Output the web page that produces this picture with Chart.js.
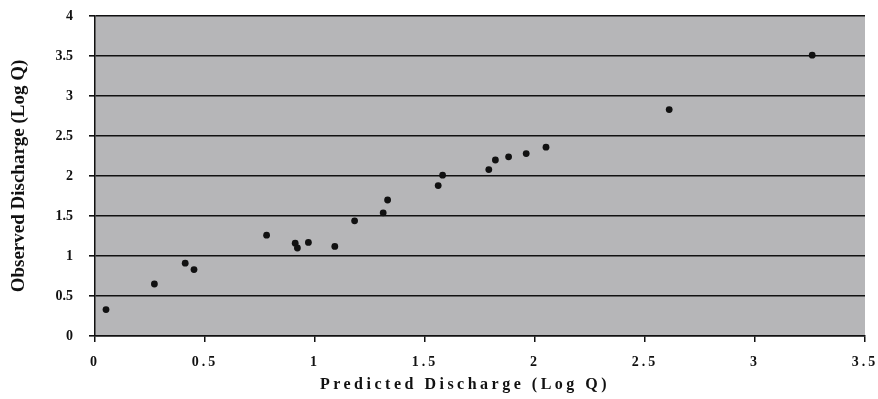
<!DOCTYPE html>
<html>
<head>
<meta charset="utf-8">
<script src="https://cdn.jsdelivr.net/npm/chart.js@4.4.1/dist/chart.umd.min.js"></script>
<style>
  html, body { margin: 0; padding: 0; background: #ffffff; }
  #wrap { width: 878px; height: 399px; }
</style>
</head>
<body>
<div id="wrap"><canvas id="c" width="878" height="399"></canvas></div>
<script>
const predicted = [0.05, 0.27, 0.41, 0.45, 0.78, 0.91, 0.92, 0.97, 1.09, 1.18, 1.31, 1.33, 1.56, 1.58, 1.79, 1.82, 1.88, 1.96, 2.05, 2.61, 3.26];
const observed  = [0.33, 0.65, 0.91, 0.83, 1.26, 1.16, 1.10, 1.17, 1.12, 1.44, 1.54, 1.70, 1.88, 2.01, 2.08, 2.20, 2.24, 2.28, 2.36, 2.83, 3.51];
const xTitle = 'Predicted Discharge (Log Q)';
const yTitle = 'Observed Discharge (Log Q)';

const points = predicted.map((x, i) => ({ x: x, y: observed[i] }));

const plotBg = {
  id: 'plotBg',
  beforeDraw(chart) {
    const { ctx, chartArea: a } = chart;
    ctx.save();
    ctx.fillStyle = '#b6b6b8';
    ctx.fillRect(a.left, a.top, a.right - a.left, a.bottom - a.top);
    ctx.restore();
    const xs = chart.scales.x;
    if (xs && !xs._spaced) {
      xs._spaced = true;
      const ol = xs.drawLabels, ot = xs.drawTitle;
      xs.drawLabels = function (ca) { const c = this.ctx; c.save(); c.letterSpacing = '3px'; ol.call(this, ca); c.restore(); };
      xs.drawTitle = function (ca) { const c = this.ctx; c.save(); c.letterSpacing = '3.5px'; c.translate(-15, 0); ot.call(this, ca); c.restore(); };
    }
  }
};

const serif = '"Liberation Serif", "Times New Roman", serif';

new Chart(document.getElementById('c'), {
  type: 'scatter',
  data: {
    datasets: [{
      data: points,
      pointRadius: 3.4,
      pointHoverRadius: 3.4,
      pointBackgroundColor: '#111111',
      pointBorderColor: '#111111',
      pointBorderWidth: 0
    }]
  },
  options: {
    responsive: false,
    animation: false,
    devicePixelRatio: 1,
    layout: { padding: { left: 8, right: 13, top: 16, bottom: 0 } },
    plugins: { legend: { display: false }, tooltip: { enabled: false } },
    scales: {
      x: {
        type: 'linear',
        min: 0, max: 3.5,
        ticks: {
          stepSize: 0.5,
          color: '#111',
          padding: 12,
          maxRotation: 0,
          font: { family: serif, size: 14, weight: 'bold' },
          callback: v => String(v)
        },
        grid: { display: true, drawOnChartArea: false, drawTicks: true, tickLength: 6, color: '#111', lineWidth: 1.5 },
        border: { display: true, color: '#111', width: 1.5 },
        title: {
          display: true,
          text: xTitle,
          color: '#111',
          padding: { top: 4, bottom: 5 },
          font: { family: serif, size: 16, weight: 'bold' }
        },
        afterFit(s) { s.height = 63; s.paddingLeft = 0; s.paddingRight = 0; }
      },
      y: {
        type: 'linear',
        min: 0, max: 4,
        ticks: {
          stepSize: 0.5,
          color: '#111',
          padding: 16,
          font: { family: serif, size: 14, weight: 'bold' },
          callback: v => String(v)
        },
        grid: { display: true, drawOnChartArea: true, drawTicks: true, tickLength: 6, color: '#111', lineWidth: 1.6 },
        border: { display: true, color: '#111', width: 1.5 },
        title: {
          display: true,
          text: yTitle,
          color: '#111',
          padding: { top: 0, bottom: 2 },
          font: { family: serif, size: 19, weight: 'bold' }
        },
        afterFit(s) { s.width = 87; s.paddingTop = 0; s.paddingBottom = 0; }
      }
    }
  },
  plugins: [plotBg]
});
</script>
</body>
</html>
